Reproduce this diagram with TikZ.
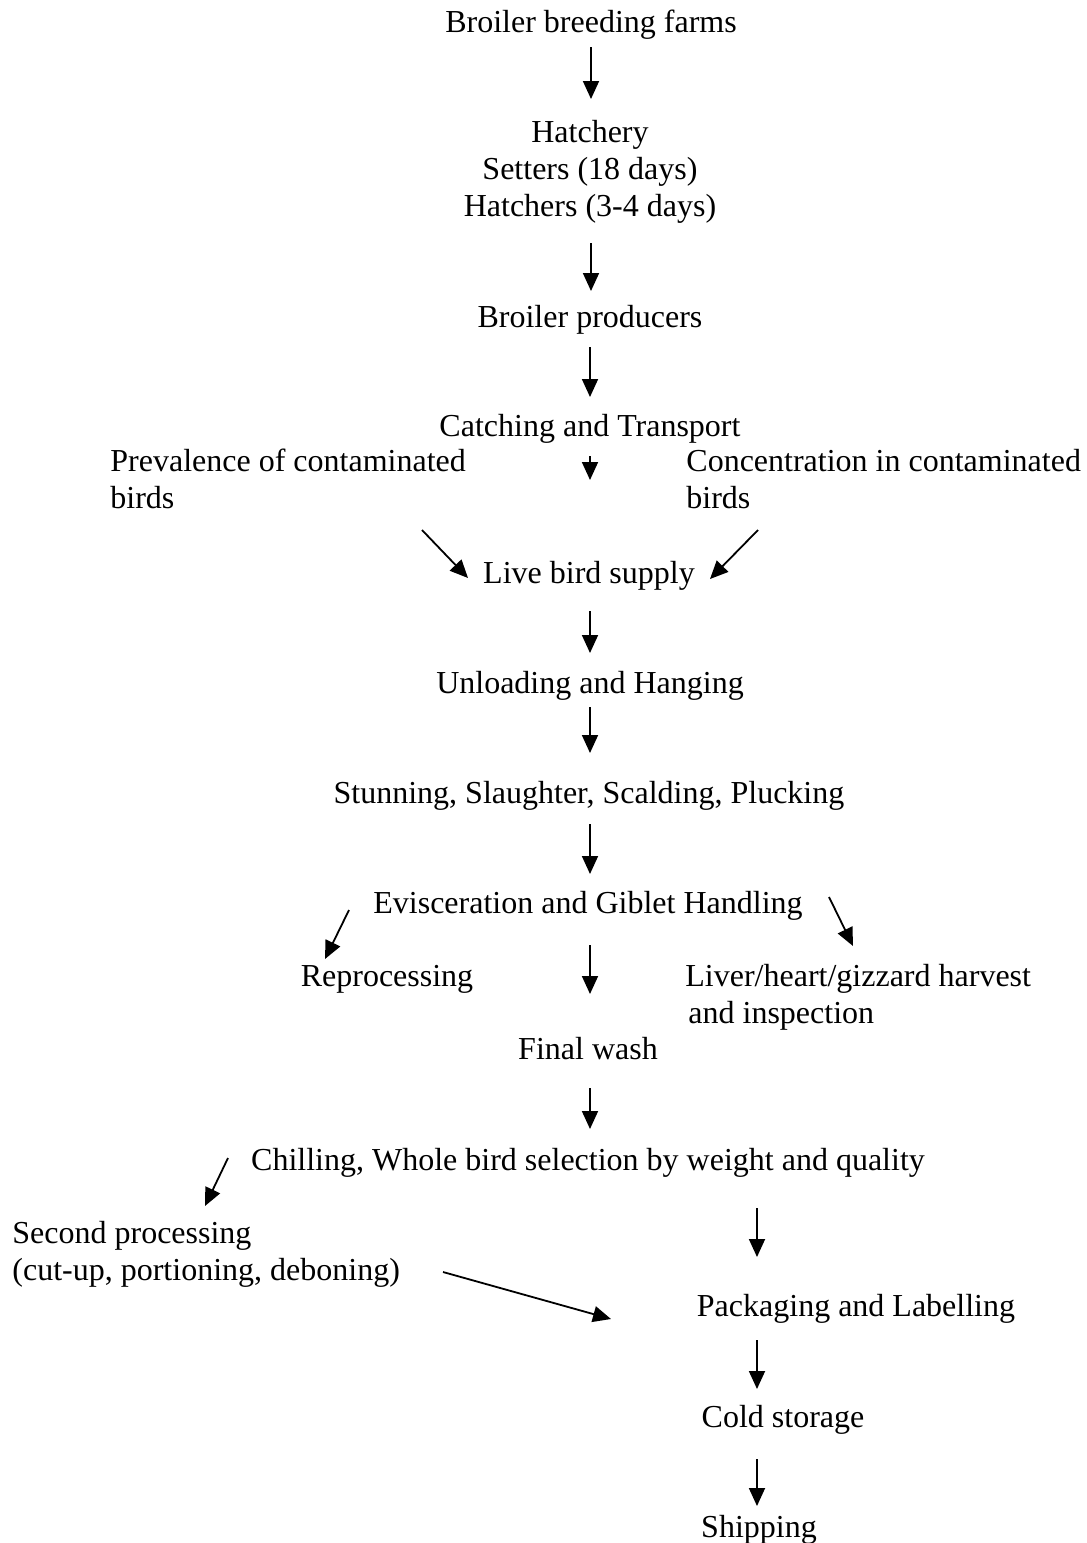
\documentclass[tikz,border=0pt]{standalone}
\usepackage{fontspec}
\setmainfont{Liberation Serif}
\usetikzlibrary{arrows.meta}
\tikzset{
  lbl/.style={inner sep=0pt, anchor=base, font=\fontsize{16}{18.5}\selectfont, align=center},
  lblw/.style={inner sep=0pt, anchor=base west, font=\fontsize{16}{18.5}\selectfont, align=left},
  arr/.style={line width=0.9pt, -{Triangle[width=8pt,length=9pt]}}
}
\begin{document}
\begin{tikzpicture}[x=0.5pt,y=-0.5pt]
\fill[white] (0,0) rectangle (1087,1543);
\useasboundingbox (0,0) rectangle (1087,1543);

% single-line nodes: baseline; multi-line nodes: baseline of last line
\node[lbl] (farms) at (591,32) {Broiler breeding farms};
\node[lbl] (hatch) at (590,216) {Hatchery\\Setters (18 days)\\Hatchers (3-4 days)};
\node[lbl] (prod) at (590,327) {Broiler producers};
\node[lbl] (catch) at (590,436) {Catching and Transport};
\node[lblw] (prev) at (110,508) {Prevalence of contaminated\\birds};
\node[lblw] (conc) at (686,508) {Concentration in contaminated\\birds};
\node[lbl] (live) at (589,583) {Live bird supply};
\node[lbl] (unload) at (590,693) {Unloading and Hanging};
\node[lbl] (stun) at (589,803) {Stunning, Slaughter, Scalding, Plucking};
\node[lbl] (evis) at (588,913) {Evisceration and Giblet Handling};
\node[lbl] (repro) at (387,986) {Reprocessing};
\node[lblw] (liver) at (685,1023) {Liver/heart/gizzard harvest\\\hspace{1.5pt}and inspection};
\node[lbl] (wash) at (588,1059) {Final wash};
\node[lbl] (chill) at (588,1170) {Chilling, Whole bird selection by weight and quality};
\node[lblw] (second) at (12,1280) {Second processing\\(cut-up, portioning, deboning)};
\node[lbl] (pack) at (856,1316) {Packaging and Labelling};
\node[lbl] (cold) at (783,1427) {Cold storage};
\node[lbl] (ship) at (759,1537) {Shipping};

% arrow end points
\coordinate (a1s) at (591,47);   \coordinate (a1e) at (591,99);
\coordinate (a2s) at (591,243);  \coordinate (a2e) at (591,291);
\coordinate (a3s) at (590,347);  \coordinate (a3e) at (590,397);
\coordinate (a4s) at (590,456);  \coordinate (a4e) at (590,480);
\coordinate (a5s) at (422,530);  \coordinate (a5e) at (468,578);
\coordinate (a6s) at (758,530);  \coordinate (a6e) at (710,579);
\coordinate (a7s) at (590,611);  \coordinate (a7e) at (590,653);
\coordinate (a8s) at (590,707);  \coordinate (a8e) at (590,753);
\coordinate (a9s) at (590,824);  \coordinate (a9e) at (590,874);
\coordinate (a10s) at (349,910); \coordinate (a10e) at (325,959);
\coordinate (a11s) at (829,897); \coordinate (a11e) at (853,946);
\coordinate (a12s) at (590,945); \coordinate (a12e) at (590,994);
\coordinate (a13s) at (590,1088); \coordinate (a13e) at (590,1129);
\coordinate (a14s) at (228,1158); \coordinate (a14e) at (205,1206);
\coordinate (a15s) at (757,1208); \coordinate (a15e) at (757,1257);
\coordinate (a16s) at (443,1272); \coordinate (a16e) at (611,1319);
\coordinate (a17s) at (757,1340); \coordinate (a17e) at (757,1389);
\coordinate (a18s) at (757,1459); \coordinate (a18e) at (757,1506);

\draw[arr] (a1s) -- (a1e);
\draw[arr] (a2s) -- (a2e);
\draw[arr] (a3s) -- (a3e);
\draw[arr] (a4s) -- (a4e);
\draw[arr] (a5s) -- (a5e);
\draw[arr] (a6s) -- (a6e);
\draw[arr] (a7s) -- (a7e);
\draw[arr] (a8s) -- (a8e);
\draw[arr] (a9s) -- (a9e);
\draw[arr] (a10s) -- (a10e);
\draw[arr] (a11s) -- (a11e);
\draw[arr] (a12s) -- (a12e);
\draw[arr] (a13s) -- (a13e);
\draw[arr] (a14s) -- (a14e);
\draw[arr] (a15s) -- (a15e);
\draw[arr] (a16s) -- (a16e);
\draw[arr] (a17s) -- (a17e);
\draw[arr] (a18s) -- (a18e);
\end{tikzpicture}
\end{document}
